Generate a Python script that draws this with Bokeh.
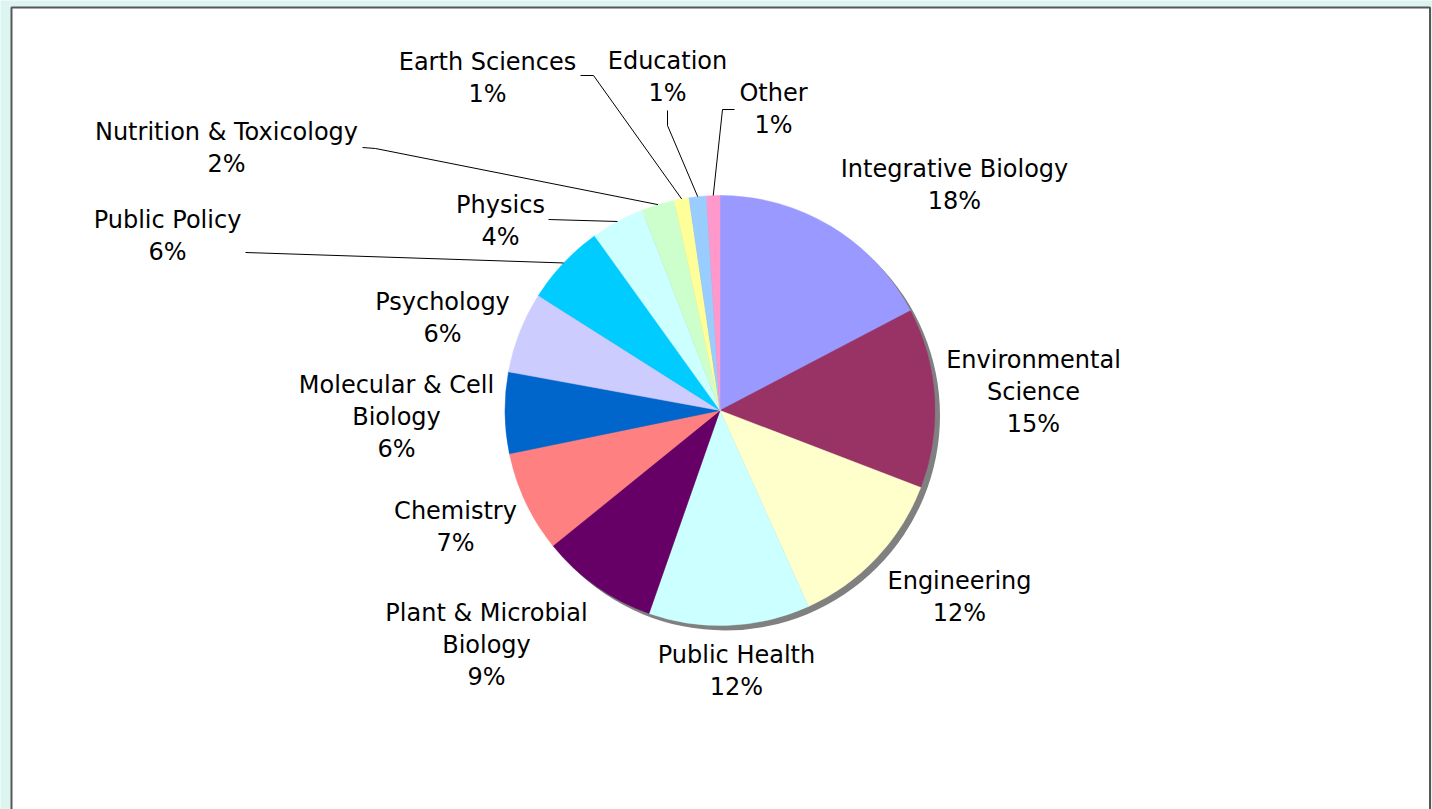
import numpy as np
from bokeh.plotting import figure
from bokeh.models import Range1d, BoxAnnotation, ColumnDataSource
from bokeh.embed import file_html
from bokeh.resources import INLINE
from bokeh.core.properties import value

# ---------------- data ----------------
categories = ["Integrative Biology", "Environmental Science", "Engineering", "Public Health",
              "Plant & Microbial Biology", "Chemistry", "Molecular & Cell Biology", "Psychology",
              "Public Policy", "Physics", "Nutrition & Toxicology", "Earth Sciences",
              "Education", "Other"]
shares = [17.3, 13.5, 12.4, 12.1, 8.8, 7.6, 6.1, 6.1, 6.1, 4.0, 2.5, 1.1, 1.3, 1.0]
pct_labels = ["18%", "15%", "12%", "12%", "9%", "7%", "6%", "6%", "6%", "4%", "2%",
              "1%", "1%", "1%"]
label_text = ["Integrative Biology", "Environmental\nScience", "Engineering", "Public Health",
              "Plant & Microbial\nBiology", "Chemistry", "Molecular & Cell\nBiology",
              "Psychology", "Public Policy", "Physics", "Nutrition & Toxicology",
              "Earth Sciences", "Education", "Other"]

# ---------------- styles / layout (page pixel coords) ----------------
colors = ["#9999FF", "#993366", "#FFFFCC", "#CCFFFF", "#660066", "#FF8080", "#0066CC",
          "#CCCCFF", "#00CCFF", "#CCFFFF", "#CCFFCC", "#FFFF99", "#99CCFF", "#FF99CC"]
BG = "#DCF5F1"
CX, CY, R = 719.5, 410.0, 215.0
LINE_GAP = 32.0
FONT = value("DejaVu Sans")
FSIZE = "24px"

# centre x and first-line centre y of every label block
label_anchor = {
    "Integrative Biology": (954, 168),
    "Environmental Science": (1033, 359),
    "Engineering": (959, 580),
    "Public Health": (736, 654),
    "Plant & Microbial Biology": (486, 612),
    "Chemistry": (455, 510),
    "Molecular & Cell Biology": (396, 384),
    "Psychology": (442, 301),
    "Public Policy": (167, 219),
    "Physics": (500, 204),
    "Nutrition & Toxicology": (226, 131),
    "Earth Sciences": (487, 61),
    "Education": (667, 60),
    "Other": (773, 92),
}
# leader lines: start near label, elbow point (end is on the slice rim)
leaders = {
    "Public Policy": [(245, 252)],
    "Physics": [(548, 219)],
    "Nutrition & Toxicology": [(362, 147), (375, 148)],
    "Earth Sciences": [(580, 75), (593, 75)],
    "Education": [(667, 110), (667, 125)],
    "Other": [(734, 109), (722, 109)],
}

# ---------------- figure ----------------
p = figure(width=1432, height=809, x_range=Range1d(0, 1432), y_range=Range1d(-809, 0),
           output_backend="svg", toolbar_location=None, min_border=0,
           x_axis_type=None, y_axis_type=None)
p.grid.visible = False
p.outline_line_color = None
p.background_fill_color = BG
p.border_fill_color = BG

panel = BoxAnnotation(left=11, right=1429.5, top=-7, bottom=-840, fill_color="white",
                      fill_alpha=1.0, line_color="#575757", line_alpha=1.0, line_width=2,
                      level="underlay")
p.add_layout(panel)

# shadow
p.circle(x=[CX + 5], y=[-(CY + 5)], radius=R, fill_color="#808080", line_color=None)

vals = np.array(shares, dtype=float)
frac = vals / vals.sum()
cum = np.concatenate([[0.0], np.cumsum(frac)])
start = np.pi / 2 - 2 * np.pi * cum[:-1]
end = np.pi / 2 - 2 * np.pi * cum[1:]
mid = (start + end) / 2

src = ColumnDataSource(dict(start=start, end=end, color=colors, name=categories))
p.wedge(x=CX, y=-CY, radius=R, start_angle="start", end_angle="end", direction="clock",
        fill_color="color", line_color="color", line_width=0.5, source=src)

# labels
tx, ty, tt = [], [], []
for i, cat in enumerate(categories):
    ax, ay = label_anchor[cat]
    lines = label_text[i].split("\n") + [pct_labels[i]]
    for k, ln in enumerate(lines):
        tx.append(ax)
        ty.append(-(ay + k * LINE_GAP))
        tt.append(ln)
p.text(x=tx, y=ty, text=tt, text_font=FONT, text_font_size=FSIZE, text_align="center",
       text_baseline="middle", text_color="black")

# leader lines
xs, ys = [], []
for i, cat in enumerate(categories):
    if cat in leaders:
        pts = leaders[cat]
        rx = CX + R * np.cos(mid[i])
        ry = CY - R * np.sin(mid[i])
        xs.append([q[0] for q in pts] + [rx])
        ys.append([-q[1] for q in pts] + [-ry])
p.multi_line(xs=xs, ys=ys, line_color="black", line_width=1)

html = file_html(p, INLINE)
html = html.replace("<body>", '<body style="background-color:%s">' % BG, 1)
open("out.html", "w").write(html)
